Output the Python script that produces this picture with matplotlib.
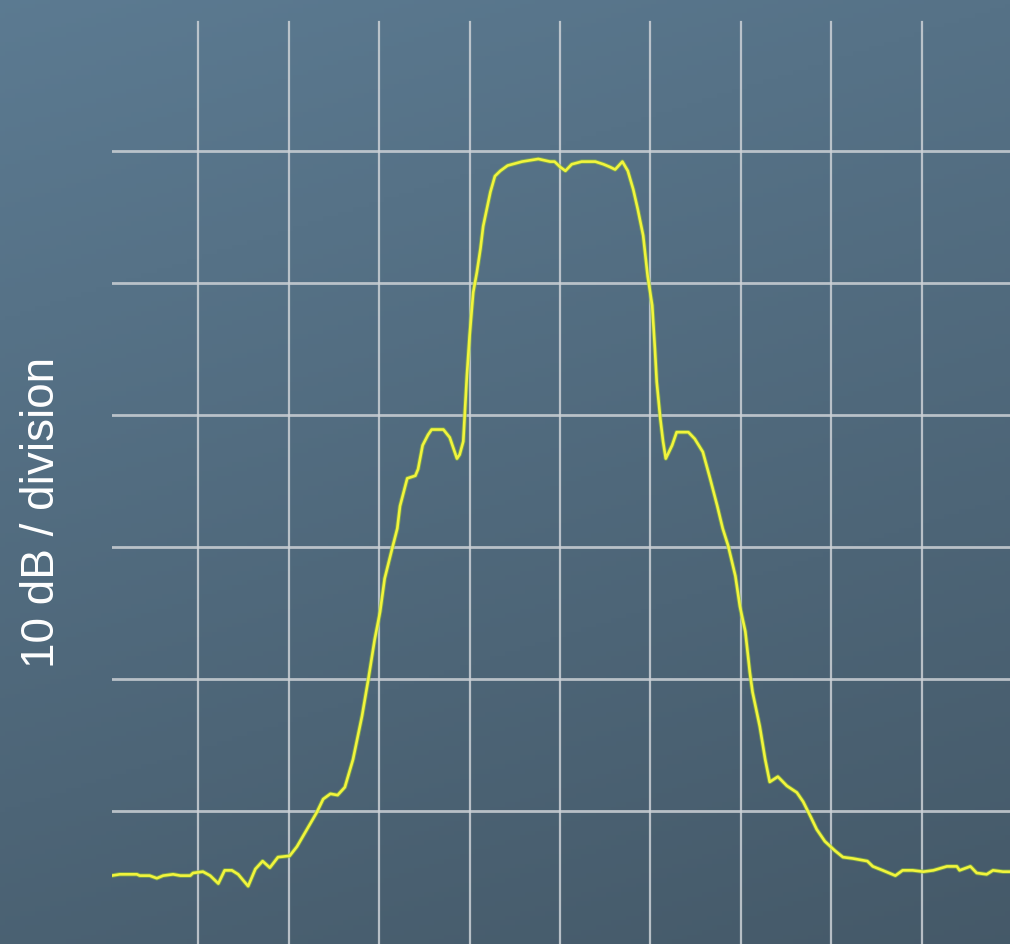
import numpy as np
import matplotlib
matplotlib.use('Agg')
import matplotlib.pyplot as plt

# spectrum trace: frequency offset (divisions from centre) and level (dB rel. top line)
freq_div = [-4.96, -4.87, -4.68, -4.65, -4.54, -4.46, -4.39, -4.28, -4.20, -4.09,
            -4.06, -3.95, -3.87, -3.78, -3.71, -3.63, -3.56, -3.45, -3.37, -3.29,
            -3.21, -3.12, -2.99, -2.91, -2.80, -2.69, -2.62, -2.54, -2.46, -2.38,
            -2.29, -2.19, -2.12, -2.05, -1.99, -1.94, -1.86, -1.80, -1.77, -1.69,
            -1.60, -1.57, -1.52, -1.46, -1.42, -1.29, -1.22, -1.14, -1.11, -1.07,
            -1.05, -1.03, -1.00, -0.96, -0.92, -0.88, -0.85, -0.81, -0.77, -0.72,
            -0.66, -0.58, -0.42, -0.24, -0.11, -0.06, 0.00, 0.06, 0.13, 0.24,
            0.39, 0.48, 0.55, 0.61, 0.69, 0.75, 0.81, 0.86, 0.92, 0.97,
            1.02, 1.05, 1.07, 1.11, 1.14, 1.17, 1.24, 1.29, 1.42, 1.49,
            1.58, 1.66, 1.74, 1.80, 1.86, 1.94, 1.99, 2.05, 2.10, 2.13,
            2.21, 2.27, 2.32, 2.41, 2.51, 2.62, 2.69, 2.77, 2.84, 2.93,
            3.04, 3.13, 3.24, 3.40, 3.46, 3.57, 3.71, 3.79, 3.90, 4.02,
            4.13, 4.28, 4.39, 4.42, 4.54, 4.61, 4.72, 4.79, 4.90, 4.98]
level_db = [-54.9, -54.8, -54.8, -54.9, -54.9, -55.1, -54.9, -54.8, -54.9, -54.9,
            -54.7, -54.6, -54.9, -55.5, -54.5, -54.5, -54.8, -55.7, -54.4, -53.8,
            -54.3, -53.5, -53.4, -52.7, -51.4, -50.1, -49.1, -48.7, -48.8, -48.2,
            -46.1, -42.8, -40.0, -37.0, -34.9, -32.4, -30.2, -28.6, -26.9, -24.8,
            -24.6, -24.1, -22.3, -21.5, -21.1, -21.1, -21.7, -23.3, -23.0, -22.0,
            -19.5, -17.0, -14.0, -10.7, -9.2, -7.4, -5.7, -4.4, -3.1, -1.9,
            -1.5, -1.1, -0.8, -0.6, -0.8, -0.8, -1.2, -1.5, -1.0, -0.8,
            -0.8, -1.0, -1.2, -1.4, -0.8, -1.5, -2.9, -4.4, -6.4, -9.5,
            -11.7, -15.0, -17.5, -20.3, -22.0, -23.3, -22.3, -21.3, -21.3, -21.8,
            -22.8, -24.8, -26.9, -28.6, -29.9, -32.2, -34.5, -36.4, -39.5, -41.0,
            -43.6, -46.1, -47.8, -47.4, -48.1, -48.6, -49.3, -50.4, -51.4, -52.3,
            -53.0, -53.5, -53.6, -53.8, -54.2, -54.5, -54.9, -54.5, -54.5, -54.6,
            -54.5, -54.2, -54.2, -54.5, -54.2, -54.7, -54.8, -54.5, -54.6, -54.6]

v_grid = [-4, -3, -2, -1, 0, 1, 2, 3, 4]
h_grid = [0, -10, -20, -30, -40, -50]
y_label = '10 dB / division'

fig = plt.figure(figsize=(10.1, 9.45), dpi=100)

# background, bluish grey like the slide photo
bg = fig.add_axes([0, 0, 1, 1], zorder=0)
yy, xx = np.mgrid[0:1:200j, 0:1:200j]
light = np.array([0.36, 0.48, 0.57])
dark = np.array([0.27, 0.35, 0.41])
t = np.clip(0.75 * yy + 0.25 * xx, 0, 1)[..., None]
bg.imshow(light * (1 - t) + dark * t, extent=[0, 1, 0, 1], aspect='auto')
bg.axis('off')

ax = fig.add_axes([112 / 1010, 0, 898 / 1010, 1], zorder=1)
ax.patch.set_alpha(0)
ax.set_xlim(-4.956, 4.978)
ax.set_ylim(-60.08, 11.52)

gcol = (0.80, 0.82, 0.84)
for v in v_grid:
    ax.plot([v, v], [-60.08, 9.77], color=gcol, lw=1.6, alpha=0.85, zorder=2)
for h in h_grid:
    ax.axhline(h, color=gcol, lw=2.0, alpha=0.85, zorder=2)

ax.plot(freq_div, level_db, color='#8fbf3a', lw=3.2, alpha=0.6, zorder=3)
ax.plot(freq_div, level_db, color='#f2f43c', lw=1.9, zorder=4)

ax.axis('off')

fig.text(42 / 1010, 1 - 512 / 945, y_label, rotation=90, color='white',
         fontsize=33, family='Liberation Sans', ha='center', va='center')

fig.savefig('out.png', dpi=100)
